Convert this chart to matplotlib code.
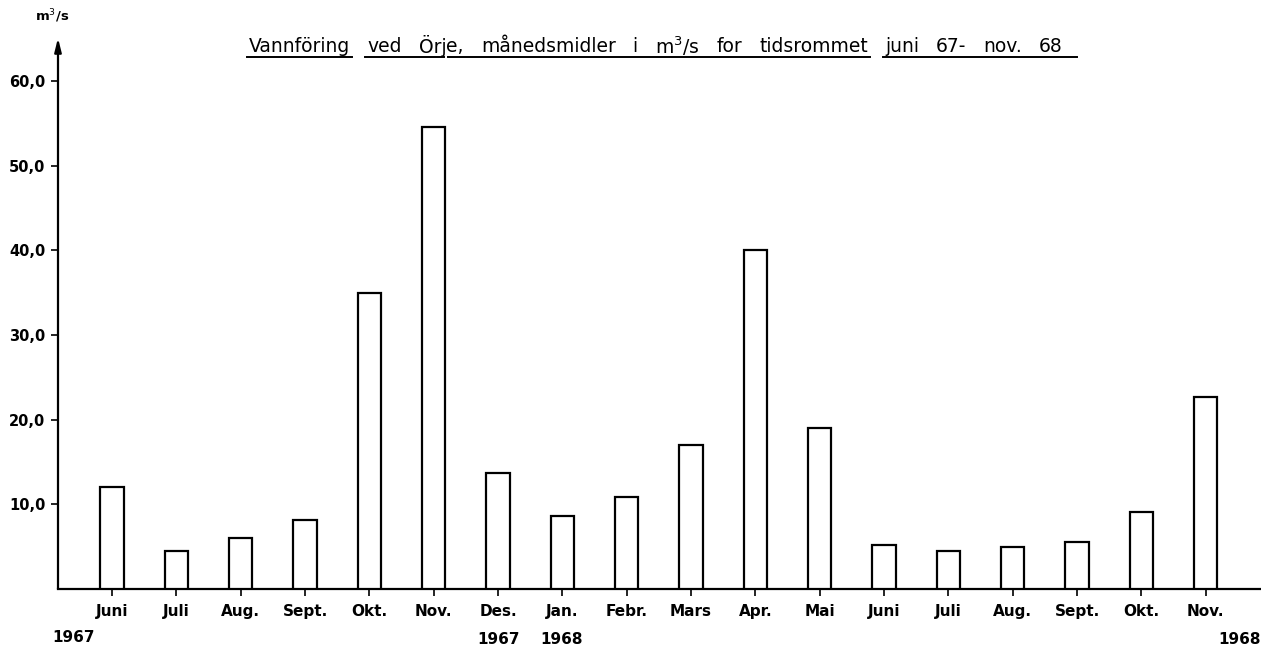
import matplotlib.pyplot as plt

# månedsmidler, vannføring ved Ørje (m3/s), juni 1967 - nov. 1968
months = ["Juni", "Juli", "Aug.", "Sept.", "Okt.", "Nov.", "Des.", "Jan.", "Febr.",
          "Mars", "Apr.", "Mai", "Juni", "Juli", "Aug.", "Sept.", "Okt.", "Nov."]
flow = [12.0, 4.5, 6.0, 8.1, 35.0, 54.6, 13.7, 8.6, 10.9,
        17.0, 40.0, 19.0, 5.2, 4.5, 5.0, 5.5, 9.1, 22.7]
yticks = [10, 20, 30, 40, 50, 60]
ytick_labels = ["10,0", "20,0", "30,0", "40,0", "50,0", "60,0"]

# tittel: (ord, mellomrom etter, understrekingsgruppe)
title_words = [("Vannföring", 1, 0), ("ved", 1, 1), ("Örj", 0, 1), ("e,", 1, 2),
               ("månedsmidler", 1, 2), ("i", 1, 2), ("m$^3$/s", 1, 2), ("for", 1, 2),
               ("tidsrommet", 1, 2), ("juni", 1, 3), ("67-", 1, 3), ("nov.", 1, 3),
               ("68", 1, 3)]

plt.rcParams['font.family'] = ['DejaVu Sans']

W, H = 1261, 650
fig = plt.figure(figsize=(W / 100, H / 100), dpi=100)
ax = fig.add_axes([58 / W, 61 / H, 1 - 58 / W, 551 / H])

x = list(range(len(months)))
ax.bar(x, flow, width=0.36, color="white", edgecolor="black", linewidth=1.6, zorder=3)

ax.set_xlim(-0.84, 17.86)
ax.set_ylim(0, 65.1)

ax.set_xticks(x)
ax.set_xticklabels(months, fontsize=11, fontweight="bold")
ax.set_yticks(yticks)
ax.set_yticklabels(ytick_labels, fontsize=10.5, fontweight="bold")
ax.tick_params(axis="x", direction="out", length=5, width=1.2, pad=6)
ax.tick_params(axis="y", direction="out", length=5, width=1.2, pad=4)

for side in ["top", "right", "left"]:
    ax.spines[side].set_visible(False)
ax.spines["bottom"].set_linewidth(1.6)

# y-akse med pil
ax.annotate("", xy=(0, 1.0), xytext=(0, 0), xycoords="axes fraction",
            arrowprops=dict(arrowstyle="-|>,head_length=0.8,head_width=0.2",
                            color="black", lw=1.6, shrinkA=0, shrinkB=0))
fig.text(52 / W, 1 - 16 / H, "m$^3$/s", fontsize=9.5, fontweight="bold",
         ha="center", va="center")

# årstall under aksen
year_style = dict(fontsize=11, fontweight="bold", ha="center", va="center")
fig.text(74 / W, 1 - 637 / H, "1967", **year_style)
fig.text(499 / W, 1 - 639 / H, "1967", **year_style)
fig.text(562 / W, 1 - 639 / H, "1968", **year_style)
fig.text(1240 / W, 1 - 639 / H, "1968", **year_style)

# tittel, ord for ord med brede mellomrom og understreking i grupper
fig.canvas.draw()
renderer = fig.canvas.get_renderer()
fs = 13.5
gap = 17
xpos = 249
title_y = 1 - 46 / H
spans = {}
for word, space, grp in title_words:
    t = fig.text(xpos / W, title_y, word, fontsize=fs, ha="left", va="center")
    bb = t.get_window_extent(renderer)
    x0, x1 = bb.x0, bb.x1
    lo, hi = spans.get(grp, (x0, x1))
    spans[grp] = (min(lo, x0), max(hi, x1))
    xpos = x1 + (gap if space else 0)

line_y = 1 - 57 / H
for grp, (lo, hi) in spans.items():
    if grp == 1:
        hi -= 4
    if grp == 2:
        lo += 4
    if grp == 3:
        hi += 12
    fig.add_artist(plt.Line2D([(lo - 2) / W, (hi + 2) / W], [line_y, line_y],
                              color="black", lw=1.4))

fig.savefig("out.png", dpi=100)
